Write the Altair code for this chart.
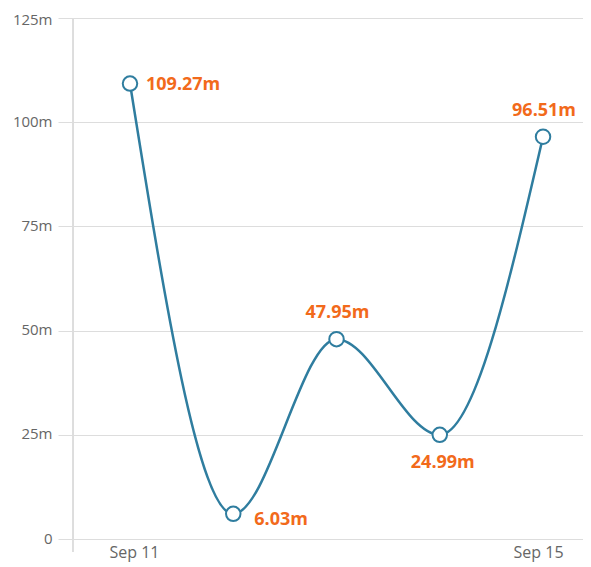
import altair as alt
import pandas as pd

dates = ["Sep 11", "Sep 12", "Sep 13", "Sep 14", "Sep 15"]
values = [109.27, 6.03, 47.95, 24.99, 96.51]
labels = ["109.27m", "6.03m", "47.95m", "24.99m", "96.51m"]
label_pos = ["right", "rightbelow", "above", "below", "above"]

df = pd.DataFrame({
    "idx": list(range(len(dates))),
    "date": dates,
    "value": values,
    "label": labels,
    "pos": label_pos,
})

LINE = "#2f7d9f"
ORANGE = "#f26a1b"
FONT = "Open Sans"

x = alt.X("idx:Q",
          scale=alt.Scale(domain=[-0.552, 4.387], nice=False, zero=False),
          axis=alt.Axis(values=[0, 4], labelExpr="datum.value == 0 ? 'Sep 11' : 'Sep 15'",
                        title=None, grid=False, domain=False, ticks=False,
                        labelFont=FONT, labelFontSize=16, labelColor="#666",
                        labelOffset={"condition": {"test": "datum.value == 0", "value": 4}, "value": -5},
                        labelPadding=5))
y = alt.Y("value:Q",
          scale=alt.Scale(domain=[0, 125], nice=False),
          axis=alt.Axis(values=[0, 25, 50, 75, 100, 125],
                        labelExpr="datum.value == 0 ? '0' : datum.value + 'm'",
                        title=None, grid=True, gridColor="#dddddd", domain=False,
                        tickSize=15, tickColor="#dddddd", labelPadding=6,
                        labelFont=FONT, labelFontSize=15, labelColor="#666",
                        labelOffset={"condition": {"test": "datum.value == 125", "value": 1}, "value": -1}))

base = alt.Chart(df)

vrule = base.mark_rule(color="#dddddd", strokeWidth=1).encode(
    x=alt.value(0), y=alt.value(0), y2=alt.value(534))

line = base.mark_line(color=LINE, strokeWidth=2.5, interpolate="monotone").encode(x=x, y=y)
pts = base.mark_point(shape="circle", filled=True, fill="white", stroke=LINE,
                      strokeWidth=2, size=210, opacity=1).encode(x=x, y=y)

def lab(pos, **kw):
    return base.transform_filter(alt.datum.pos == pos).mark_text(
        color=ORANGE, font=FONT, fontSize=18, fontWeight="bold", **kw
    ).encode(x=x, y=y, text="label:N")

t_right = lab("right", align="left", baseline="middle", dx=16, dy=1)
t_rb = lab("rightbelow", align="left", baseline="middle", dx=21, dy=6)
t_above = lab("above", align="center", baseline="middle", dx=1, dy=-26)
t_below = lab("below", align="center", baseline="middle", dx=3, dy=28)

chart = alt.layer(vrule, line, pts, t_right, t_rb, t_above, t_below).properties(
    width=510, height=521,
    autosize=alt.AutoSizeParams(type="none"),
    padding={"left": 65, "top": 10, "right": 0, "bottom": 30},
).configure_view(stroke=None).configure(background="white")

chart.save("out.html", embed_options={"renderer": "svg", "actions": False})
